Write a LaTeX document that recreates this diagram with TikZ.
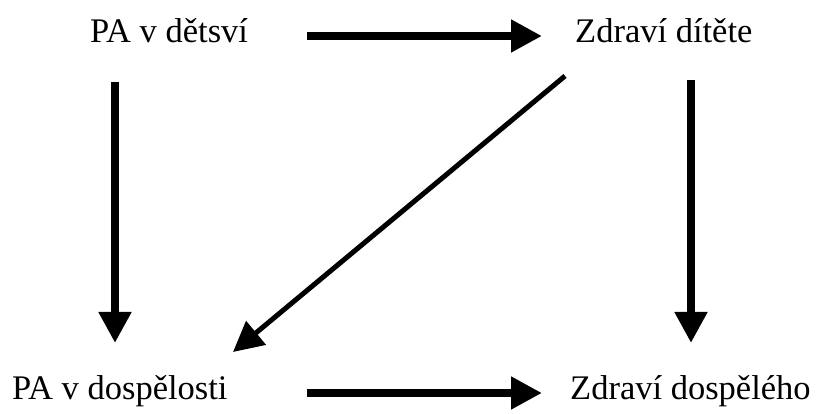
\documentclass[tikz,border=0pt]{standalone}
\usepackage{fontspec}
\newfontfamily\timesfont{Liberation Serif}
\usetikzlibrary{arrows.meta}
\tikzset{
	txt/.style={inner sep=0, anchor=base west, font=\timesfont\fontsize{34.5}{40}\selectfont},
	bigarrow/.style={line width=8pt, -{Triangle[length=31pt, width=31pt]}},
	thinarrow/.style={line width=5pt, -{Triangle[length=30pt, width=30pt]}}
}

\begin{document}
\begin{tikzpicture}[x=1pt, y=1pt]
		%%%%% START %%%%%
		
		\useasboundingbox (0, 0) rectangle (822, 414);
		
		\node[txt] (pad) at (90, 371) {PA v dětsví};
		\node[txt] (zdd) at (575, 371) {Zdraví dítěte};
		\node[txt] (pdos) at (12, 14) {PA v dospělosti};
		\node[txt] (zdos) at (570, 14) {Zdraví dospělého};
		
		\draw[bigarrow] ([shift={(217, 7)}]pad.base west) -- ([shift={(-33, 7)}]zdd.base west);
		\draw[bigarrow] ([shift={(295, 7)}]pdos.base west) -- ([shift={(-28, 7)}]zdos.base west);
		
		\draw[bigarrow] ([shift={(25, -39)}]pad.base west) -- ([shift={(103, 57)}]pdos.base west);
		\draw[bigarrow] ([shift={(116, -37)}]zdd.base west) -- ([shift={(121, 57)}]zdos.base west);
		
		\draw[thinarrow] ([shift={(-10, -33)}]zdd.base west) -- ([shift={(221, 48)}]pdos.base west);
		
		%%%%% END %%%%%
	\end{tikzpicture}
\end{document}
